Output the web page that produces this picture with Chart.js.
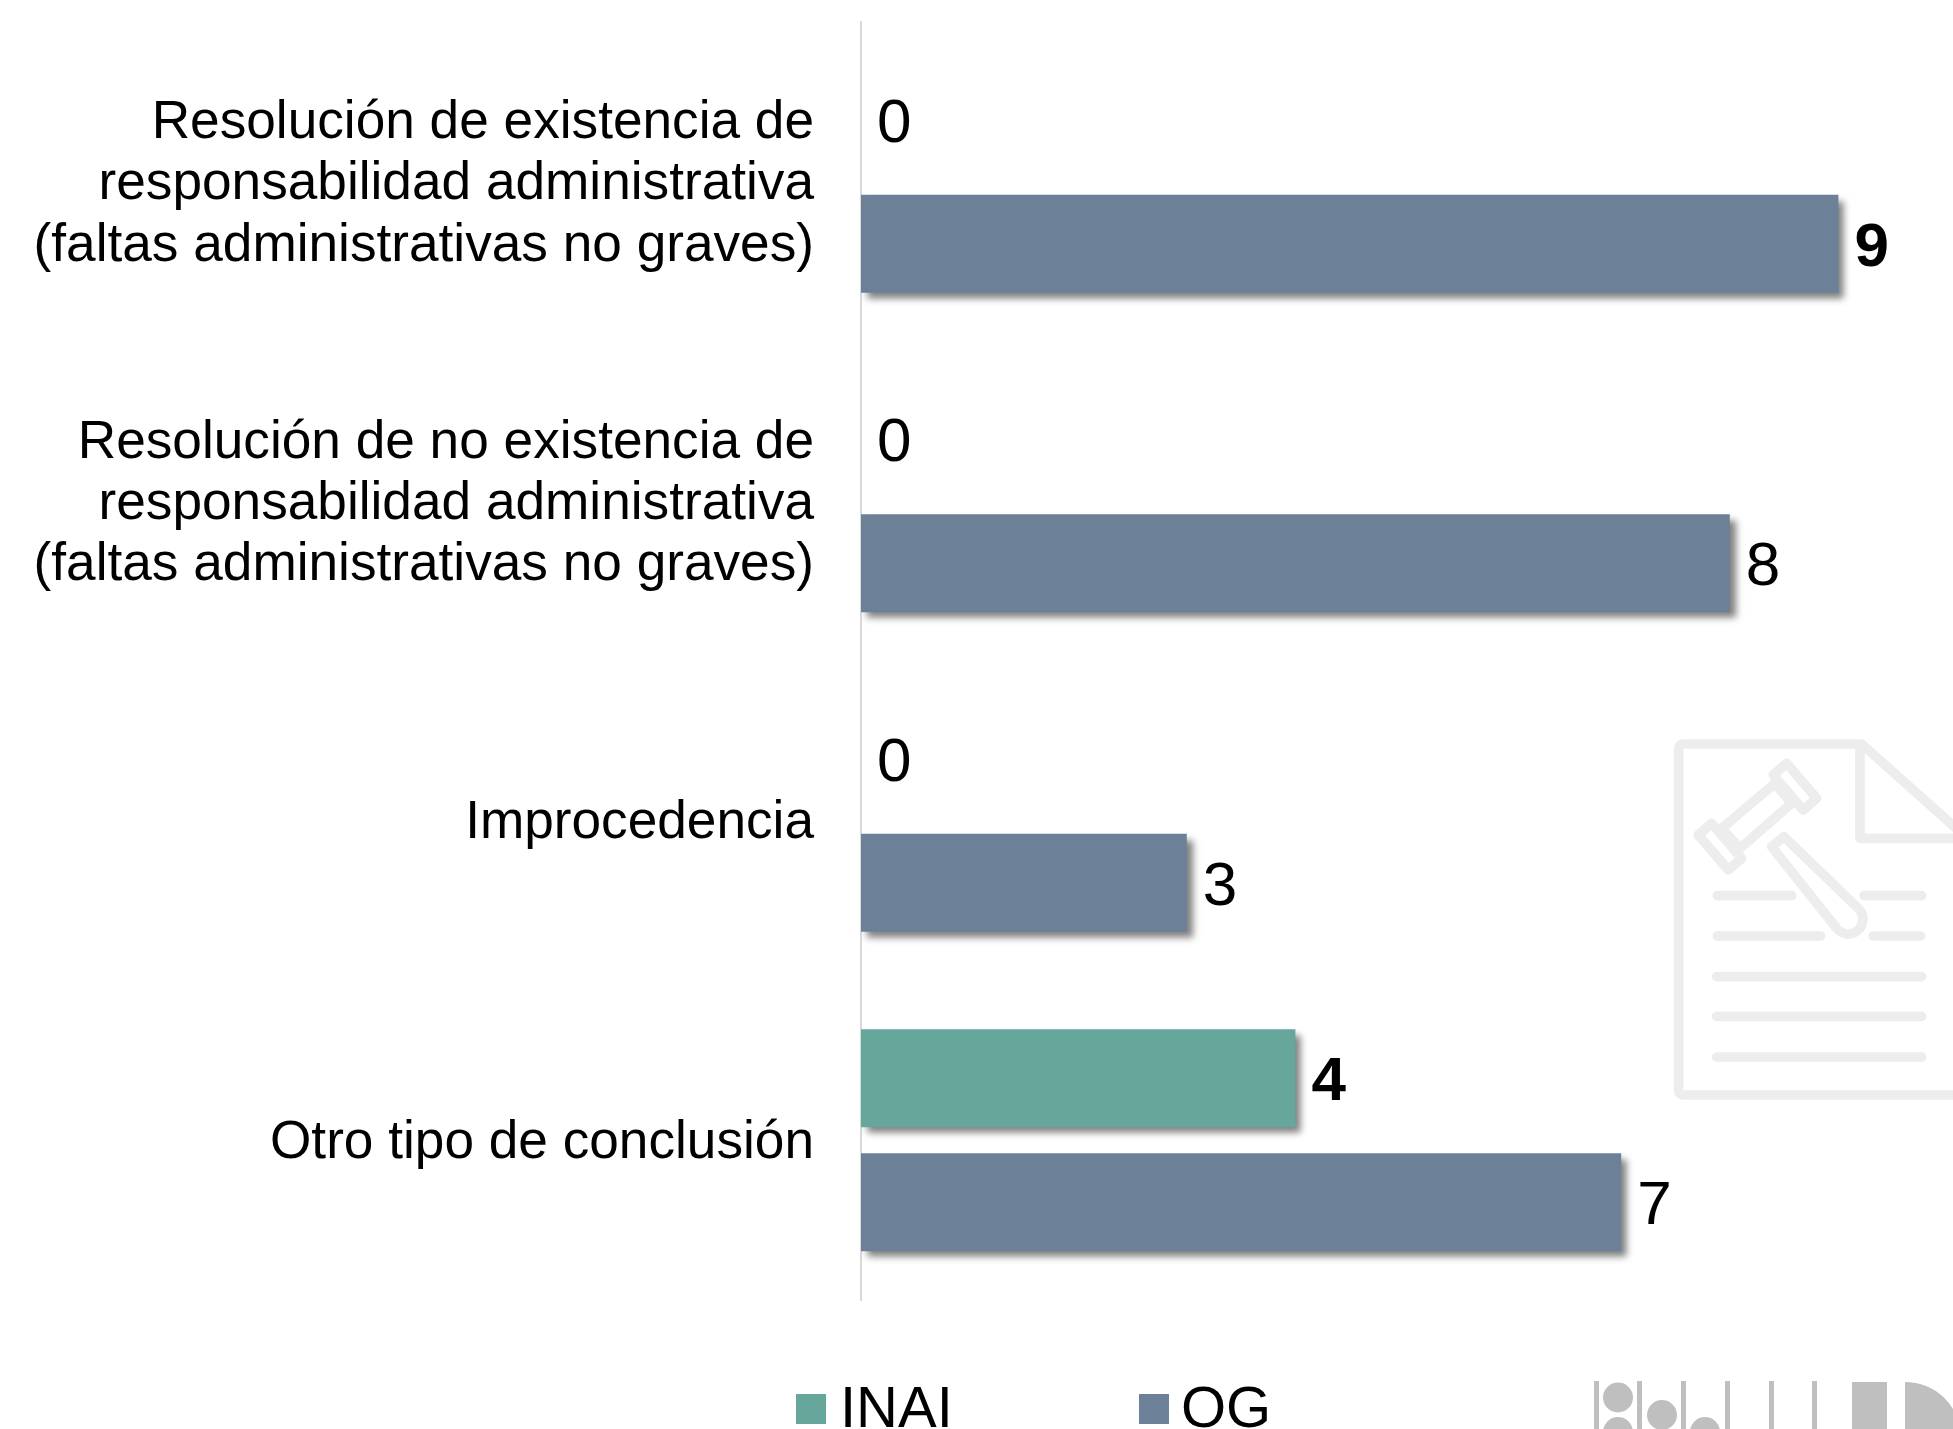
<!DOCTYPE html>
<html>
<head>
<meta charset="utf-8">
<style>
  html, body { margin: 0; padding: 0; background: #fff; overflow: hidden; }
  #wrap { position: relative; width: 1953px; height: 1429px; }
  #wrap svg, #wrap canvas { position: absolute; left: 0; top: 0; }
</style>
<script src="https://cdn.jsdelivr.net/npm/chart.js@4/dist/chart.umd.min.js"></script>
</head>
<body>
<div id="wrap">
  <!-- watermark icon and logo behind the chart -->
  <svg width="1953" height="1429" viewBox="0 0 1953 1429">
    <g transform="translate(1640,720) scale(0.3333)" fill="none" stroke="#ededed" stroke-width="29" stroke-linecap="round" stroke-linejoin="round">
      <path d="M960 1125 H130 Q116 1125 116 1110 V88 Q116 72 130 72 H665 L960 335"/>
      <path d="M660 75 V355 H960"/>
      <path d="M405 190 L455 250 L300 385 L245 325 Z"/>
      <path d="M440 130 L530 235 L490 270 L400 165 Z"/>
      <path d="M215 310 L305 415 L265 450 L175 345 Z"/>
      <path d="M432 350 L395 380 L590 625 Q625 660 660 625 Q680 590 655 565 Z"/>
      <path d="M232 527 H455 M672 527 H845 M232 648 H542 M700 648 H842 M230 770 H845 M230 889 H845 M230 1011 H845"/>
    </g>
    <g fill="#bfbfbf">
      <rect x="1594" y="1381" width="5" height="48"/>
      <rect x="1637" y="1381" width="5" height="48"/>
      <rect x="1681" y="1381" width="5" height="48"/>
      <rect x="1725" y="1381" width="5" height="48"/>
      <rect x="1769" y="1381" width="5" height="48"/>
      <rect x="1812" y="1381" width="5" height="48"/>
      <circle cx="1618" cy="1397.5" r="15"/>
      <circle cx="1618" cy="1432" r="15"/>
      <circle cx="1662" cy="1415" r="15"/>
      <circle cx="1705" cy="1432" r="15"/>
      <rect x="1852" y="1382" width="35" height="47"/>
      <path d="M1905 1382 A55 53 0 0 1 1960 1435 V1429 H1905 Z"/>
    </g>
  </svg>
  <canvas id="chart" width="1953" height="1429"></canvas>
</div>
<script>
var categories = [
    ['Resolución de existencia de', 'responsabilidad administrativa', '(faltas administrativas no graves)'],
    ['Resolución de no existencia de', 'responsabilidad administrativa', '(faltas administrativas no graves)'],
    'Improcedencia',
    'Otro tipo de conclusión'
];
var inaiValues = [0, 0, 0, 4];
var ogValues = [9, 8, 3, 7];

var fontFamily = '"Liberation Sans", Arial, sans-serif';

// bar shadow, switched on only while the bars are drawn
var barShadow = {
    id: 'barShadow',
    beforeDatasetsDraw: function(chart) {
        var ctx = chart.ctx;
        ctx.save();
        ctx.shadowColor = 'rgba(0, 0, 0, 0.5)';
        ctx.shadowBlur = 7;
        ctx.shadowOffsetX = 6;
        ctx.shadowOffsetY = 6;
    },
    afterDatasetsDraw: function(chart) {
        chart.ctx.restore();
    }
};

// category labels sit a little below the middle of their band
var nudgeTicks = {
    id: 'nudgeTicks',
    beforeDraw: function(chart) {
        chart.scales.y.getLabelItems().forEach(function(item) {
            item.options.translation[1] += 3;
        });
    }
};

// value next to the end of each bar
var valueLabels = {
    id: 'valueLabels',
    afterDraw: function(chart) {
        var ctx = chart.ctx;
        ctx.save();
        ctx.fillStyle = '#000';
        ctx.textAlign = 'left';
        ctx.textBaseline = 'middle';
        chart.data.datasets.forEach(function(ds, i) {
            chart.getDatasetMeta(i).data.forEach(function(bar, j) {
                var value = ds.data[j];
                // the largest value of each series is in bold
                var isMax = value === Math.max.apply(null, ds.data);
                ctx.font = (isMax ? 'bold ' : '') + '62px ' + fontFamily;
                ctx.fillText(value, bar.x + 16, bar.y + 5);
            });
        });
        ctx.restore();
    }
};

// legend sits partly outside the page, as in the original
var bottomLegend = {
    id: 'bottomLegend',
    afterDraw: function(chart) {
        var ctx = chart.ctx;
        var boxX = [796, 1139];
        var textX = [840, 1181];
        ctx.save();
        ctx.font = '58px ' + fontFamily;
        ctx.textAlign = 'left';
        ctx.textBaseline = 'alphabetic';
        chart.data.datasets.forEach(function(ds, i) {
            ctx.fillStyle = ds.backgroundColor;
            ctx.fillRect(boxX[i], 1394, 30, 30);
            ctx.fillStyle = '#000';
            ctx.fillText(ds.label, textX[i], 1427);
        });
        ctx.restore();
    }
};

new Chart(document.getElementById('chart').getContext('2d'), {
    type: 'bar',
    data: {
        labels: categories,
        datasets: [{
            label: 'INAI',
            data: inaiValues,
            backgroundColor: '#66a69b'
        }, {
            label: 'OG',
            data: ogValues,
            backgroundColor: '#6c8098'
        }]
    },
    plugins: [barShadow, nudgeTicks, valueLabels, bottomLegend],
    options: {
        indexAxis: 'y',
        responsive: false,
        animation: false,
        categoryPercentage: 0.776,
        barPercentage: 0.79,
        layout: {
            padding: { left: 0, top: 22, right: 6, bottom: 129 }
        },
        plugins: {
            legend: { display: false },
            tooltip: { enabled: false }
        },
        scales: {
            x: {
                display: false,
                min: 0,
                max: 10
            },
            y: {
                grid: { display: false, drawTicks: false },
                border: { display: true, color: '#d9d9d9', width: 2 },
                afterFit: function(scale) {
                    scale.width = 861;
                    // tall first and last labels must not shrink the plot
                    scale.paddingTop = 0;
                    scale.paddingBottom = 0;
                },
                ticks: {
                    color: '#000',
                    padding: 47,
                    autoSkip: false,
                    font: { family: fontFamily, size: 53.2, lineHeight: 1.15 }
                }
            }
        }
    }
});
</script>
</body>
</html>
